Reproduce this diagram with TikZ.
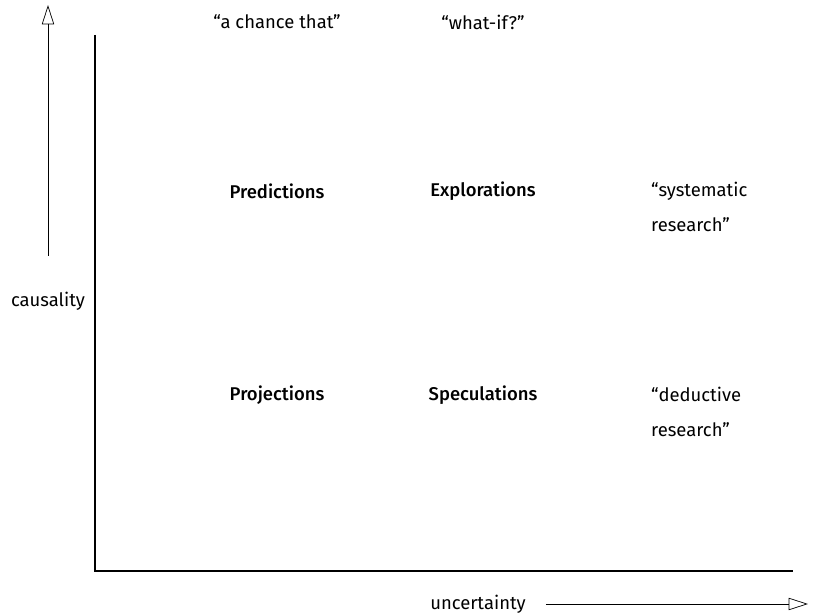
\documentclass[tikz,border=0pt]{standalone}
\usepackage{fontspec}
\setmainfont{Fira Sans}[BoldFont={Fira Sans Medium}]
\usetikzlibrary{arrows.meta}
\tikzset{
    cell/.style={font=\fontsize{10.5}{20}\selectfont\bfseries},
    quote/.style={font=\fontsize{10.5}{20}\selectfont},
    axislabel/.style={font=\fontsize{10.5}{20}\selectfont},
    openarrow/.style={-{Triangle[open,length=11pt,width=7pt]}, thin}
}
\begin{document}
\begin{tikzpicture}[x=0.02cm, y=-0.02cm]
    \useasboundingbox (0, 0) rectangle (815, 614);

    % Axes
    \coordinate (origin) at (95, 571);
    \coordinate (ytop) at (95, 35);
    \coordinate (xend) at (793, 571);
    \draw[line width=1pt] (ytop) -- (origin) -- (xend);

    % Nodes
    \node at (277, 22) (chance) [quote] {“a chance that”};
    \node at (483, 22) (whatif) [quote] {“what-if?”};
    \node at (277, 191) (pred) [cell] {Predictions};
    \node at (483, 191) (expl) [cell] {Explorations};
    \node at (645, 207) (syst) [quote, anchor=west, align=left] {“systematic\\research”};
    \node at (277, 395) (proj) [cell] {Projections};
    \node at (483, 395) (spec) [cell] {Speculations};
    \node at (645, 412) (dedu) [quote, anchor=west, align=left] {“deductive\\research”};

    \node at (48, 301) (causality) [axislabel] {causality};
    \node at (478, 604) (uncertainty) [axislabel] {uncertainty};
    \coordinate (ctop) at (48, 5);
    \coordinate (uend) at (808, 604);

    % Arrows
    \draw[openarrow] (causality.north) ++(0, -30) coordinate (cbot) -- (ctop);
    \draw[openarrow] (uncertainty.east) ++(14, 0) coordinate (ustart) -- (uend);

\end{tikzpicture}
\end{document}
